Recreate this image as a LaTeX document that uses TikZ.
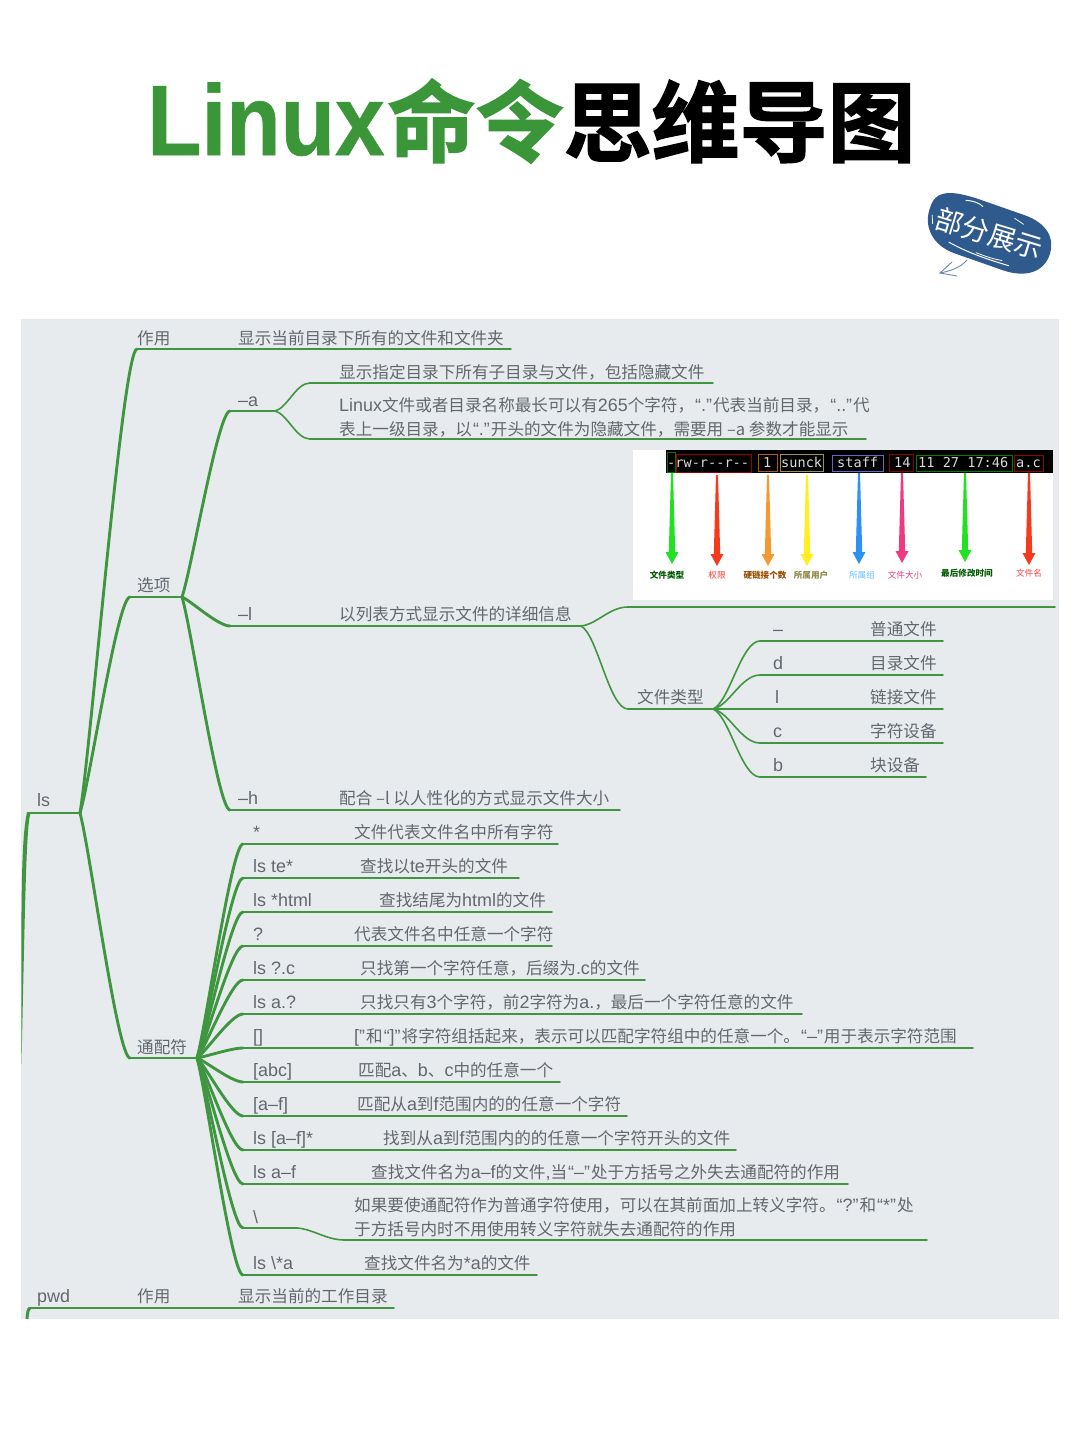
\documentclass[tikz,border=0pt]{standalone}
\usepackage{fontspec}
\usetikzlibrary{calc}
\setmainfont[Scale=1.08]{Liberation Sans}
\newfontfamily\cjk{Noto Sans CJK SC}
\newfontfamily\titlelat[FakeStretch=0.89,FakeBold=0.6]{Liberation Sans Bold}
\newfontfamily\titlecjk[FakeBold=1.6]{Noto Sans CJK SC Bold}
\newfontfamily\termfont{DejaVu Sans Mono}
% automatic switch to the CJK family
\XeTeXinterchartokenstate=1
\newXeTeXintercharclass\cjkc
\newcount\cc
\cc="2E80 \loop\ifnum\cc<"A000 \XeTeXcharclass\cc=\cjkc \advance\cc by 1 \repeat
\cc="FF00 \loop\ifnum\cc<"FF20 \XeTeXcharclass\cc=\cjkc \advance\cc by 1 \repeat
\XeTeXinterchartoks 0 \cjkc={\cjk}
\XeTeXinterchartoks 255 \cjkc={\cjk}
\XeTeXinterchartoks \cjkc 0={\rmfamily}
\XeTeXinterchartoks 255 0={\rmfamily}
\newcommand{\noswitch}{\XeTeXinterchartokenstate=0\relax}
\newcommand{\QL}{\hspace{1pt}\rmfamily“}
\newcommand{\QR}{”\hspace{1pt}\cjk}
\definecolor{panel}{HTML}{E7EBEE}
\definecolor{txt}{HTML}{62686F}
\definecolor{grn}{HTML}{409640}
\definecolor{ttl}{HTML}{3A9638}
\definecolor{badge}{HTML}{2F5A8E}
\definecolor{ared}{HTML}{F53A1E}
\definecolor{aora}{HTML}{F59A30}
\definecolor{agrn}{HTML}{22E022}
\definecolor{ayel}{HTML}{FFEE20}
\definecolor{ablu}{HTML}{2E90F0}
\definecolor{apnk}{HTML}{EE3A80}
\tikzset{
  lbl/.style={anchor=base west,inner sep=0pt,text=txt,font=\fontsize{16.6}{20}\selectfont},
  lblc/.style={anchor=base west,inner sep=0pt,text=txt,font=\fontsize{16.6}{20}\selectfont\cjk},
  thickl/.style={draw=grn,line width=2.9pt,line cap=round},
  thinl/.style={draw=grn,line width=1.6pt,line cap=round},
  tiny/.style={anchor=base,inner sep=0pt,font=\fontsize{8.6}{10}\selectfont\cjk\bfseries},
  tinyl/.style={anchor=base,inner sep=0pt,font=\fontsize{8.6}{10}\selectfont\cjk},
  term/.style={anchor=base west,inner sep=0pt,text=white!85!black,execute at begin node={\noswitch},font=\fontsize{13.6}{14}\selectfont\termfont},
  tbox/.style={line width=.7pt,fill=none},
}
% \branch{name}{x start}{x thick end}{x end}{y}
\newcommand{\branch}[5]{%
  \coordinate (#1-a) at (#2,#5);\coordinate (#1-b) at (#3,#5);\coordinate (#1-c) at (#4,#5);
  \draw[thinl] (#1-b)--(#1-c);\draw[thickl] (#1-a)--(#1-b);}
% \thinbranch{name}{x start}{x end}{y}
\newcommand{\thinbranch}[4]{%
  \coordinate (#1-a) at (#2,#4);\coordinate (#1-c) at (#3,#4);
  \draw[thinl] (#1-a)--(#1-c);}
% \link[style]{from}{to}
\newcommand{\link}[3][thickl]{%
  \draw[#1] let \p1=(#2),\p2=(#3) in (\p1) .. controls (\x1+.2*\x2-.2*\x1,\y1+.15*\y2-.15*\y1) and (\x1+.75*\x2-.75*\x1,\y2) .. (\p2);}
\newcommand{\slink}[3][thinl]{%
  \draw[#1] let \p1=(#2),\p2=(#3) in (\p1) .. controls (\x1+.35*\x2-.35*\x1,\y1+.1*\y2-.1*\y1) and (\x1+.6*\x2-.6*\x1,\y2) .. (\p2);}
% \taper{x}{y0}{y1}{colour}
\newcommand{\taper}[4]{%
  \fill[#4] (#1-1,#2) -- (#1+1,#2) -- (#1+3.2,#3-12) -- (#1+6.5,#3-12) -- (#1,#3) -- (#1-6.5,#3-12) -- (#1-3.2,#3-12) -- cycle;}
\begin{document}
\begin{tikzpicture}[x=1pt,y=-1pt]
\useasboundingbox (0,0) rectangle (1080,1440);
\fill[white] (0,0) rectangle (1080,1440);
\fill[panel] (21,319) rectangle (1059,1319);
% title
\node[anchor=base west,inner sep=0pt,font=\fontsize{100}{100}\selectfont,text=black,execute at begin node={\noswitch}] (title) at (147,155)
  {\textcolor{ttl}{\titlelat Linux}\hspace{3pt}\fontsize{88}{88}\selectfont\textcolor{ttl}{\titlecjk 命令}\titlecjk 思维导图};
% badge
\begin{scope}[shift={(987,234)},rotate=-17]
  \fill[badge] (-62,-10) .. controls (-62,-30) and (-40,-31) .. (-20,-31) -- (30,-29) .. controls (55,-28) and (66,-15) .. (66,0) .. controls (66,20) and (50,31) .. (25,30) -- (-25,28) .. controls (-50,27) and (-64,10) .. (-62,-10) -- cycle;
  \draw[white,line width=1pt,line cap=round] (-30,-26) .. controls (-22,-28) and (-15,-27) .. (-12,-25);
  \draw[white,line width=1pt,line cap=round] (-34,19) .. controls (-10,24) and (10,24) .. (30,24);
  \draw[white,line width=.8pt,line cap=round] (-5,21) .. controls (5,22) and (15,22) .. (22,21);
  \draw[white,line width=.8pt,line cap=round] (22,-23) -- (32,-20);
  \draw[white,line width=.8pt,line cap=round] (-58,-2) -- (-55,6);
  \node[inner sep=0pt,text=white,rotate=-17,font=\fontsize{27.5}{30}\selectfont\cjk] (badgetext) at (2,-1) {部分展示};
\end{scope}
\draw[badge!70!white,line width=.9pt,line cap=round] (967,260) .. controls (960,268) and (950,271) .. (940,273);
\draw[badge!70!white,line width=.9pt,line cap=round] (952,262) -- (940,273) -- (957,276);
% trunk
\coordinate (trunkend) at (21.5,1064);
% terminal image
\fill[white] (633,450) rectangle (1053,600);
\fill[black] (666,450) rectangle (1053,473);
\draw[tbox,draw=green!45!black] (667,452) rectangle (675,472);
\draw[tbox,draw=red!60!black] (676,454) rectangle (751,472);
\draw[tbox,draw=orange!70!black] (758,454) rectangle (777,471);
\draw[tbox,draw=yellow!55!black] (780,454) rectangle (823,471);
\draw[tbox,draw=blue!50!white!80!black] (832,455) rectangle (883,471);
\draw[tbox,draw=red!55!black] (889,454) rectangle (913,471);
\draw[tbox,draw=green!50!black] (916,455) rectangle (1012,471);
\draw[tbox,draw=red!60!black] (1014,455) rectangle (1043,471);
\node[term] (t1) at (667,467) {-rw-r--r--};
\node[term] (t2) at (763,467) {1};
\node[term] (t3) at (781,467) {sunck};
\node[term] (t4) at (837,467) {staff};
\node[term] (t5) at (894,467) {14};
\node[term] (t6) at (918,467) {11 27 17:46};
\node[term] (t7) at (1016,467) {a.c};
\taper{672}{473}{564}{agrn}
\taper{717}{475}{566}{ared}
\taper{768}{475}{566}{aora}
\taper{807}{475}{566}{ayel}
\taper{859}{473}{564}{ablu}
\taper{902}{473}{563}{apnk}
\taper{965}{473}{562}{agrn}
\taper{1029}{473}{565}{ared}
\node[tiny,text=green!35!black] (c1) at (667,578) {文件类型};
\node[tinyl,text=red!80!white] (c2) at (717,578) {权限};
\node[tiny,text=orange!60!black] (c3) at (765,578) {硬链接个数};
\node[tiny,text=yellow!50!black] (c4) at (811,578) {所属用户};
\node[tinyl,text=blue!40!cyan!60!white] (c5) at (862,578) {所属组};
\node[tinyl,text=magenta!70!red!80!white] (c6) at (905,578) {文件大小};
\node[tiny,text=green!35!black] (c7) at (967,576) {最后修改时间};
\node[tinyl,text=red!75!white] (c8) at (1029,576) {文件名};
% branches
\branch{ls}{30}{78}{80}{813}
\branch{zy}{137}{238}{511}{349}
\branch{xx}{130}{182}{182}{597}
\branch{oa}{230}{275}{275}{411}
\thinbranch{a1}{310}{713}{383}
\thinbranch{a2}{310}{866}{439}
\branch{ol}{230}{281}{581}{626}
\thinbranch{ltop}{628}{1055}{607}
\thinbranch{ftype}{628}{713}{709}
\thinbranch{f1}{760}{943}{641}
\thinbranch{f2}{760}{943}{675}
\thinbranch{f3}{760}{943}{709}
\thinbranch{f4}{760}{943}{743}
\thinbranch{f5}{760}{926}{777}
\branch{oh}{230}{281}{620}{810}
\branch{wc}{130}{197}{197}{1058}
\branch{w1}{243}{295}{558}{844}
\branch{w2}{243}{302}{519}{878}
\branch{w3}{243}{319}{552}{912}
\branch{w4}{243}{295}{552}{946}
\branch{w5}{243}{300}{645}{980}
\branch{w6}{243}{300}{802}{1014}
\branch{w7}{243}{295}{973}{1048}
\branch{w8}{243}{299}{560}{1082}
\branch{w9}{243}{296}{627}{1116}
\branch{w10}{243}{323}{736}{1150}
\branch{w11}{243}{311}{848}{1184}
\branch{w12}{243}{297}{297}{1228}
\thinbranch{w12b}{345}{927}{1240}
\branch{w13}{243}{304}{537}{1275}
\branch{pw}{30}{78}{80}{1308}
\branch{pz}{130}{179}{394}{1308}
\draw[thinl] (pw-c)--(pz-a);
% connectors
\fill[grn] (31,812) .. controls (26.5,822) and (25.5,880) .. (trunkend) .. controls (21,900) and (21,840) .. (27,812) -- cycle;
\coordinate (pwbottom) at (27,1319);
\draw[grn,line width=3pt] (pwbottom) .. controls (27.5,1312) and (28,1309) .. (pw-a);
\link{ls-c}{zy-a}
\link{ls-c}{xx-a}
\link{ls-c}{wc-a}
\link{xx-c}{oa-a}
\link{xx-c}{ol-a}
\link{xx-c}{oh-a}
\slink{oa-c}{a1-a}
\slink{oa-c}{a2-a}
\slink{ol-c}{ltop-a}
\slink{ol-c}{ftype-a}
\slink{ftype-c}{f1-a}
\slink{ftype-c}{f2-a}
\slink{ftype-c}{f3-a}
\slink{ftype-c}{f4-a}
\slink{ftype-c}{f5-a}
\foreach \k in {w1,w2,w3,w4,w5,w6,w7,w8,w9,w10,w11,w12,w13}{\link{wc-c}{\k-a}}
\slink{w12-c}{w12b-a}
% labels
\node[lblc] (Lzy) at (137,344) {作用};
\node[lblc] (Lzyt) at (238,344) {显示当前目录下所有的文件和文件夹};
\node[lbl] (Loa) at (238,406) {–a};
\node[lblc] (La1) at (339,378) {显示指定目录下所有子目录与文件，包括隐藏文件};
\node[lbl] (La2) at (339,411) {Linux文件或者目录名称最长可以有265个字符，\QL.\QR 代表当前目录，\QL..\QR 代};
\node[lblc] (La3) at (339,435) {表上一级目录，以\QL.\QR 开头的文件为隐藏文件，需要用 –a 参数才能显示};
\node[lblc] (Lxx) at (137,591) {选项};
\node[lbl] (Lol) at (238,620) {–l};
\node[lblc] (Lolt) at (339,620) {以列表方式显示文件的详细信息};
\node[lblc] (Lft) at (637,703) {文件类型};
\node[lbl] (Lf1) at (773,635) {–};
\node[lblc] (Lf1t) at (870,635) {普通文件};
\node[lbl] (Lf2) at (773,669) {d};
\node[lblc] (Lf2t) at (870,669) {目录文件};
\node[lbl] (Lf3) at (775,703) {l};
\node[lblc] (Lf3t) at (870,703) {链接文件};
\node[lbl] (Lf4) at (773,737) {c};
\node[lblc] (Lf4t) at (870,737) {字符设备};
\node[lbl] (Lf5) at (773,771) {b};
\node[lblc] (Lf5t) at (870,771) {块设备};
\node[lbl] (Loh) at (238,804) {–h};
\node[lblc] (Loht) at (339,804) {配合 –l 以人性化的方式显示文件大小};
\node[lbl] (Lls) at (37,806) {ls};
\node[lblc] (Lwc) at (137,1053) {通配符};
\node[lbl] (Lw1) at (253,838) {*};
\node[lblc] (Lw1t) at (354,838) {文件代表文件名中所有字符};
\node[lbl] (Lw2) at (253,872) {ls te*};
\node[lblc] (Lw2t) at (360,872) {查找以te开头的文件};
\node[lbl] (Lw3) at (253,906) {ls *html};
\node[lblc] (Lw3t) at (379,906) {查找结尾为html的文件};
\node[lbl] (Lw4) at (253,940) {?};
\node[lblc] (Lw4t) at (354,940) {代表文件名中任意一个字符};
\node[lbl] (Lw5) at (253,974) {ls ?.c};
\node[lblc] (Lw5t) at (360,974) {只找第一个字符任意，后缀为.c的文件};
\node[lbl] (Lw6) at (253,1008) {ls a.?};
\node[lblc] (Lw6t) at (360,1008) {只找只有3个字符，前2字符为a.，最后一个字符任意的文件};
\node[lbl] (Lw7) at (253,1042) {[]};
\node[lbl] (Lw7t) at (354,1042) {[\QR 和\QL]\QR 将字符组括起来，表示可以匹配字符组中的任意一个。\QL–\QR 用于表示字符范围};
\node[lbl] (Lw8) at (253,1076) {[abc]};
\node[lblc] (Lw8t) at (358,1076) {匹配a、b、c中的任意一个};
\node[lbl] (Lw9) at (253,1110) {[a–f]};
\node[lblc] (Lw9t) at (357,1110) {匹配从a到f范围内的的任意一个字符};
\node[lbl] (Lw10) at (253,1144) {ls [a–f]*};
\node[lblc] (Lw10t) at (383,1144) {找到从a到f范围内的的任意一个字符开头的文件};
\node[lbl] (Lw11) at (253,1178) {ls a–f};
\node[lblc] (Lw11t) at (371,1178) {查找文件名为a–f的文件,当\QL–\QR 处于方括号之外失去通配符的作用};
\node[lbl] (Lw12) at (253,1223) {\textbackslash};
\node[lblc] (Lw12t) at (354,1211) {如果要使通配符作为普通字符使用，可以在其前面加上转义字符。\QL?\QR 和\QL*\QR 处};
\node[lblc] (Lw12u) at (354,1235) {于方括号内时不用使用转义字符就失去通配符的作用};
\node[lbl] (Lw13) at (253,1269) {ls \textbackslash*a};
\node[lblc] (Lw13t) at (364,1269) {查找文件名为*a的文件};
\node[lbl] (Lpw) at (37,1302) {pwd};
\node[lblc] (Lpz) at (137,1302) {作用};
\node[lblc] (Lpzt) at (238,1302) {显示当前的工作目录};
\end{tikzpicture}
\end{document}
